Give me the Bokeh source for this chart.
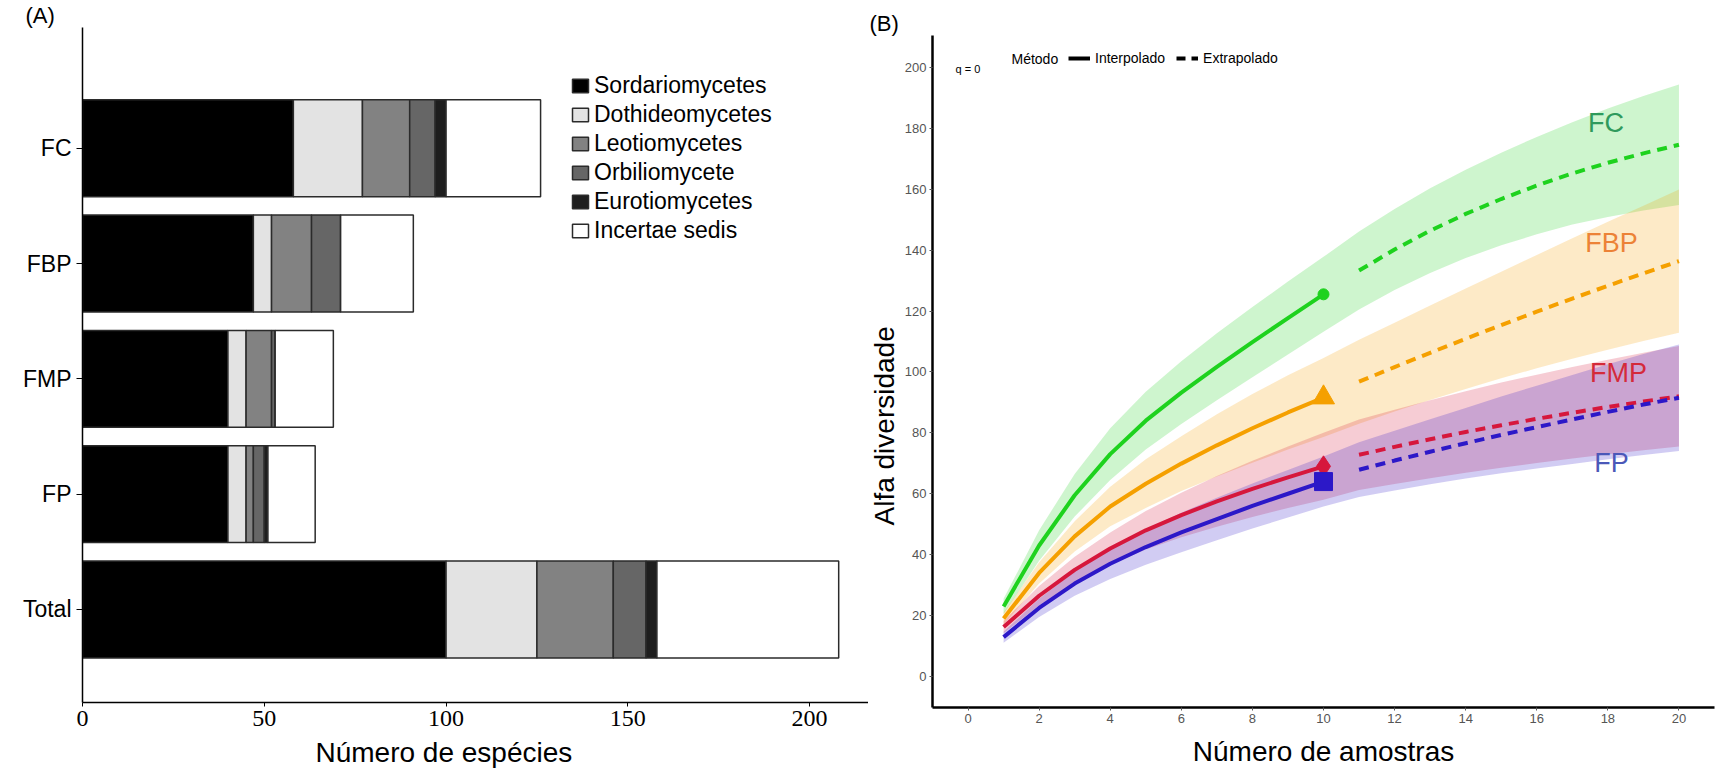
from bokeh.embed import file_html
from bokeh.layouts import row
from bokeh.models import ColumnDataSource, FixedTicker, Label, Legend, LegendItem, Title
from bokeh.plotting import figure
from bokeh.resources import INLINE

SANS = "Liberation Sans"
SERIF = "Liberation Serif"

# ---------------- (A) species per fungal class and site ----------------
sites = ["FC", "FBP", "FMP", "FP", "Total"]
class_names = ["Sordariomycetes", "Dothideomycetes", "Leotiomycetes",
               "Orbiliomycete", "Eurotiomycetes", "Incertae sedis"]
sordariomycetes = [58, 47, 40, 40, 100]
dothideomycetes = [19, 5, 5, 5, 25]
leotiomycetes = [13, 11, 7, 2, 21]
orbiliomycete = [7, 8, 1, 3, 9]
eurotiomycetes = [3, 0, 0, 1, 3]
incertae_sedis = [26, 20, 16, 13, 50]
class_colors = ["#000000", "#e3e3e3", "#828282", "#666666", "#1e1e1e", "#ffffff"]
species_ticks = [0, 50, 100, 150, 200]

# ---------------- (B) rarefaction (interpolated) and extrapolated richness ----------------
samples_interp = [1, 2, 3, 4, 5, 6, 7, 8, 9, 10]
samples_extrap = [11, 12, 13, 14, 15, 16, 17, 18, 19, 20]
sample_ticks = [0, 2, 4, 6, 8, 10, 12, 14, 16, 18, 20]
richness_ticks = [0, 20, 40, 60, 80, 100, 120, 140, 160, 180, 200]

fc_interp = [23, 43, 59.5, 73, 84, 93.2, 101.7, 109.8, 117.7, 125.5]
fc_extrap = [133.3, 140.2, 146.4, 151.9, 156.8, 161.2, 165.2, 168.7, 171.8, 174.6]
fc_lower = [20.5, 38, 52.5, 64.5, 74.5, 82.9, 90.7, 98.3, 105.7, 113.2,
            120.5, 126.9, 132.5, 137.4, 141.6, 145.2, 148.4, 150.9, 153.0, 154.8]
fc_upper = [25.5, 48, 66.5, 81.5, 93.5, 103.5, 112.7, 121.3, 129.7, 137.8,
            146.1, 153.5, 160.3, 166.4, 172.0, 177.2, 182.0, 186.5, 190.6, 194.4]

fbp_interp = [19, 34, 46, 55.8, 63.3, 69.9, 75.9, 81.5, 86.7, 91.6]
fbp_extrap = [96.8, 101.6, 106.3, 110.9, 115.4, 119.8, 124.1, 128.3, 132.4, 136.4]
fbp_lower = [17, 30.5, 41, 49.3, 55.3, 60.9, 65.7, 70.2, 74.5, 78.6,
             83.0, 87.0, 90.8, 94.4, 97.9, 101.2, 104.3, 107.3, 110.2, 112.9]
fbp_upper = [21, 37.5, 51, 62.3, 71.3, 78.9, 86.1, 92.8, 98.9, 104.6,
             110.6, 116.2, 121.8, 127.4, 132.9, 138.4, 143.9, 149.3, 154.6, 159.9]

fmp_interp = [16.2, 26.5, 35, 42, 48, 53, 57.5, 61.6, 65.4, 69]
fmp_extrap = [72.8, 75.4, 77.9, 80.3, 82.5, 84.6, 86.6, 88.5, 90.3, 92]
fmp_lower = [14.2, 23.3, 30.7, 36.7, 41.7, 45.7, 49.2, 52.4, 55.3, 58.0,
             61.2, 63.2, 65.1, 66.9, 68.5, 70.1, 71.6, 73.0, 74.3, 75.5]
fmp_upper = [18.2, 29.7, 39.3, 47.3, 54.3, 60.3, 65.8, 70.8, 75.5, 80.0,
             84.4, 87.6, 90.7, 93.7, 96.5, 99.1, 101.6, 104.0, 106.3, 108.5]

fp_interp = [12.9, 22.5, 30.5, 37, 42.5, 47.3, 51.7, 56, 60, 64]
fp_extrap = [67.9, 70.9, 73.8, 76.6, 79.3, 81.9, 84.4, 86.9, 89.3, 91.5]
fp_lower = [11.1, 19.5, 26.5, 32, 36.7, 40.8, 44.7, 48.6, 52.2, 55.8,
            58.9, 61.1, 63.1, 65.0, 66.7, 68.3, 69.8, 71.3, 72.7, 74.0]
fp_upper = [14.7, 25.5, 34.5, 42, 48.3, 53.8, 58.7, 63.4, 67.8, 72.2,
            76.9, 80.7, 84.5, 88.2, 91.9, 95.5, 99.0, 102.5, 105.9, 109.0]

site_colors = ["#1ed21e", "#f5a000", "#d6173c", "#2c18c8"]
site_text_colors = ["#2f9a5c", "#ec8236", "#d42a3a", "#4b58b8"]
site_markers = ["circle", "triangle", "diamond", "square"]
marker_sizes = [11, 22, 21, 18]
# where the site names sit inside panel B (samples, richness)
site_label_x = [17.95, 18.1, 18.3, 18.1]
site_label_y = [181.6, 142.2, 99.5, 70.2]

# ================= panel A =================
pos = [len(sites) - i for i in range(len(sites))]
keys = ["sordariomycetes", "dothideomycetes", "leotiomycetes",
        "orbiliomycete", "eurotiomycetes", "incertae_sedis"]
src_a = ColumnDataSource(dict(
    pos=pos,
    sordariomycetes=sordariomycetes,
    dothideomycetes=dothideomycetes,
    leotiomycetes=leotiomycetes,
    orbiliomycete=orbiliomycete,
    eurotiomycetes=eurotiomycetes,
    incertae_sedis=incertae_sedis,
))

pa = figure(width=868, height=776, x_range=(0, 216.2), y_range=(0.193, 6.047),
            output_backend="svg", toolbar_location=None,
            min_border_left=82, min_border_right=0, min_border_top=27, min_border_bottom=74)
pa.outline_line_color = None
pa.grid.visible = False

pa.hbar_stack(keys, y="pos", height=0.84, color=class_colors, line_color="#2b2b2b",
              line_width=1.5, source=src_a, legend_label=class_names)

pa.xaxis.ticker = FixedTicker(ticks=species_ticks)
pa.xaxis.major_label_text_font = SERIF
pa.xaxis.major_label_text_font_size = "24px"
pa.xaxis.major_label_text_color = "#000000"
pa.xaxis.major_tick_out = 4
pa.xaxis.major_tick_in = 0
pa.xaxis.minor_tick_out = 0
pa.xaxis.minor_tick_in = 0
pa.xaxis.major_label_standoff = 4
pa.yaxis.ticker = FixedTicker(ticks=pos)
pa.yaxis.major_label_overrides = {p: s for p, s in zip(pos, sites)}
pa.yaxis.major_label_text_font = SANS
pa.yaxis.major_label_text_font_size = "23px"
pa.yaxis.major_label_text_color = "#000000"
pa.yaxis.major_tick_out = 6
pa.yaxis.major_tick_in = 0
pa.yaxis.minor_tick_out = 0
pa.yaxis.minor_tick_in = 0
pa.yaxis.major_label_standoff = 5
pa.axis.axis_line_width = 1.5
pa.axis.axis_line_color = "#000000"
pa.axis.major_tick_line_color = "#000000"

leg_a = pa.legend[0]
leg_a.location = (488, 458)
leg_a.border_line_color = None
leg_a.background_fill_alpha = 0
leg_a.padding = 0
leg_a.margin = 0
leg_a.spacing = 2
leg_a.glyph_width = 20
leg_a.glyph_height = 17
leg_a.label_height = 17
leg_a.label_standoff = 4
leg_a.label_text_font = SANS
leg_a.label_text_font_size = "23px"
leg_a.label_text_color = "#000000"

pa.add_layout(Title(text="Número de espécies", align="left", offset=233, standoff=12,
                    text_font=SANS, text_font_size="28px", text_font_style="normal",
                    text_line_height=1.0, text_color="#000000"), "below")
pa.add_layout(Title(text="(A)", align="left", offset=-57, standoff=0,
                    text_font=SANS, text_font_size="22px", text_font_style="normal",
                    text_line_height=1.0, text_color="#000000"), "above")

# ================= panel B =================
pb = figure(width=847, height=776, x_range=(-1, 21), y_range=(-10.2, 210.5),
            output_backend="svg", toolbar_location=None,
            min_border_left=63, min_border_right=1, min_border_top=35, min_border_bottom=69)
pb.outline_line_color = None
pb.grid.visible = False

samples_all = samples_interp + samples_extrap
series = [
    (fc_interp, fc_extrap, fc_lower, fc_upper),
    (fbp_interp, fbp_extrap, fbp_lower, fbp_upper),
    (fmp_interp, fmp_extrap, fmp_lower, fmp_upper),
    (fp_interp, fp_extrap, fp_lower, fp_upper),
]

for (interp, extrap, lo, hi), col in zip(series, site_colors):
    pb.varea(x=samples_all, y1=lo, y2=hi, fill_color=col, fill_alpha=0.22)

for (interp, extrap, lo, hi), col, mk, ms in zip(series, site_colors, site_markers, marker_sizes):
    pb.line(samples_interp, interp, line_color=col, line_width=4)
    pb.line(samples_extrap, extrap, line_color=col, line_width=4, line_dash="10 7")
    pb.scatter([samples_interp[-1]], [interp[-1]], marker=mk, size=ms,
               fill_color=col, line_color=col)

for name, tx, ty, tc in zip(sites[:4], site_label_x, site_label_y, site_text_colors):
    pb.add_layout(Label(x=tx, y=ty, text=name, text_font=SANS, text_font_size="27px",
                        text_color=tc, text_align="center", text_baseline="middle"))

pb.xaxis.ticker = FixedTicker(ticks=sample_ticks)
pb.yaxis.ticker = FixedTicker(ticks=richness_ticks)
pb.axis.axis_line_width = 2.5
pb.axis.axis_line_color = "#000000"
pb.axis.major_tick_out = 3
pb.axis.major_tick_in = 0
pb.axis.minor_tick_out = 0
pb.axis.minor_tick_in = 0
pb.axis.major_tick_line_color = "#555555"
pb.axis.major_tick_line_width = 1
pb.axis.major_label_text_font = SANS
pb.axis.major_label_text_font_size = "13px"
pb.axis.major_label_text_color = "#555555"
pb.axis.major_label_standoff = 3

pb.xaxis.axis_label = "Número de amostras"
pb.xaxis.axis_label_standoff = 10
pb.xaxis.axis_label_text_font = SANS
pb.xaxis.axis_label_text_font_size = "28px"
pb.xaxis.axis_label_text_font_style = "normal"
pb.xaxis.axis_label_text_line_height = 1.0
pb.xaxis.axis_label_text_color = "#000000"

# method key (solid = interpolated, dashed = extrapolated); the key renderers
# lie outside the visible ranges so only their legend swatches show
r_int = pb.line(x=[-40, -39], y=[-100, -100], line_color="#000000", line_width=4)
r_ext = pb.line(x=[-40, -39], y=[-100, -100], line_color="#000000", line_width=4,
                line_dash="9 6")
leg_b = Legend(items=[LegendItem(label="Interpolado", renderers=[r_int]),
                      LegendItem(label="Extrapolado", renderers=[r_ext])],
               orientation="horizontal", location=(136, 641))
leg_b.border_line_color = None
leg_b.background_fill_alpha = 0
leg_b.padding = 0
leg_b.margin = 0
leg_b.spacing = 11
leg_b.glyph_width = 22
leg_b.glyph_height = 14
leg_b.label_height = 14
leg_b.label_standoff = 5
leg_b.label_text_font = SANS
leg_b.label_text_font_size = "14px"
leg_b.label_text_color = "#000000"
pb.add_layout(leg_b)

pb.add_layout(Label(x=79, y=649, x_units="screen", y_units="screen", text="Método",
                    text_font=SANS, text_font_size="14px", text_align="left",
                    text_baseline="middle", text_color="#000000"))
pb.add_layout(Label(x=23, y=639, x_units="screen", y_units="screen", text="q = 0",
                    text_font=SANS, text_font_size="11px", text_align="left",
                    text_baseline="middle", text_color="#000000"))

pb.add_layout(Title(text="Alfa diversidade", align="left", offset=182, standoff=0,
                    vertical_align="top", text_font=SANS, text_font_size="28px",
                    text_font_style="normal", text_line_height=1.0,
                    text_color="#000000"), "left")
pb.add_layout(Title(text="(B)", align="left", offset=-63, standoff=0,
                    text_font=SANS, text_font_size="22px", text_font_style="normal",
                    text_line_height=1.0, text_color="#000000"), "above")

# the two panels keep their own plot-area borders
for fig in (pa, pb):
    if "frame_align" in fig.properties():
        fig.frame_align = False

layout = row(pa, pb, spacing=0)
open("out.html", "w").write(file_html(layout, INLINE))
